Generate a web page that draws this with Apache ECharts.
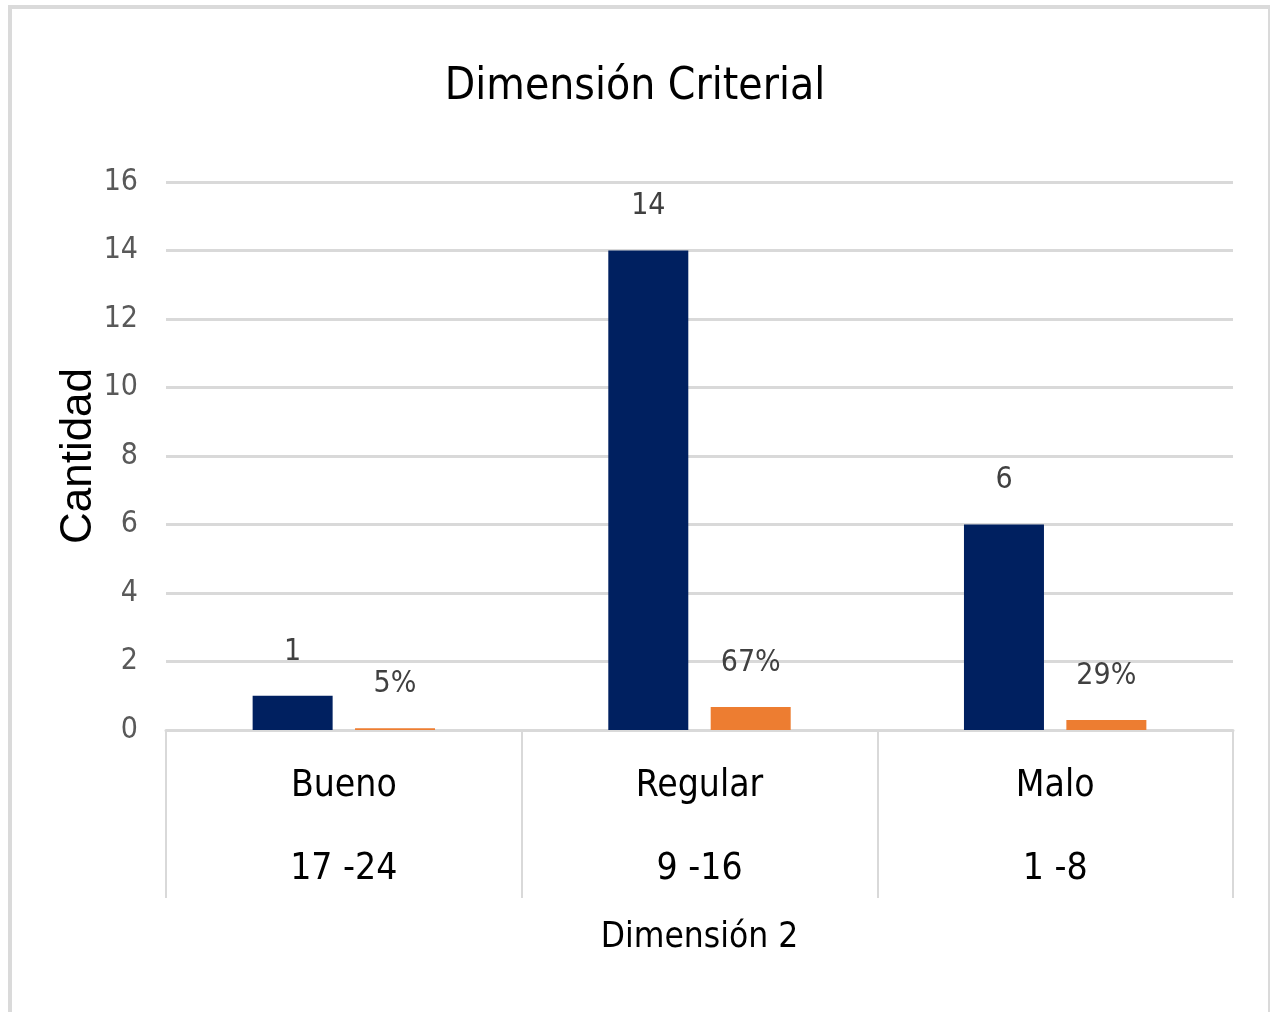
<!DOCTYPE html>
<html>
<head>
<meta charset="utf-8">
<script src="https://cdn.jsdelivr.net/npm/echarts@6/dist/echarts.min.js"></script>
<style>
html,body{margin:0;padding:0;background:#fff;}
#chart{position:absolute;left:0;top:0;width:1270px;height:1012px;}
#frame{position:absolute;left:8px;top:5px;width:1256px;height:1020px;border:4px solid #dadada;border-bottom:none;pointer-events:none;}
</style>
</head>
<body>
<div id="chart"></div>
<div id="frame"></div>
<script>
const title = 'Dimensión Criterial';
const categories = ['Bueno', 'Regular', 'Malo'];
const ranges = ['17 -24', '9 -16', '1 -8'];
const cantidad = [1, 14, 6];
const porcentaje = [0.05, 0.67, 0.29];
const porcentajeLabels = ['5%', '67%', '29%'];
const yTicks = [0, 2, 4, 6, 8, 10, 12, 14, 16];

const NARROW = "'Liberation Sans Narrow','DejaVu Sans Condensed','Arial Narrow',sans-serif";
const chart = echarts.init(document.getElementById('chart'));
chart.setOption({
  animation: false,
  backgroundColor: '#ffffff',
  title: {
    text: title, left: 'center', top: 61,
    textStyle: { fontFamily: NARROW, fontSize: 44, fontWeight: 'normal', color: '#000000' }
  },
  grid: { left: 166, right: 37, top: 182, bottom: 282 },
  xAxis: {
    type: 'category',
    data: categories.map((c, i) => c + '\n' + ranges[i]),
    name: 'Dimensión 2', nameLocation: 'middle', nameGap: 190,
    nameTextStyle: { fontFamily: NARROW, fontSize: 35, color: '#000000' },
    axisLine: { lineStyle: { color: '#d9d9d9', width: 3 } },
    axisTick: { show: true, length: 168, lineStyle: { color: '#d9d9d9', width: 2 } },
    axisLabel: {
      interval: 0, margin: 15, lineHeight: 83,
      fontFamily: NARROW, fontSize: 37, color: '#000000'
    }
  },
  yAxis: {
    type: 'value', min: yTicks[0], max: yTicks[yTicks.length - 1], interval: 2,
    name: 'Cantidad', nameLocation: 'middle', nameGap: 65, nameRotate: 90,
    nameMoveOverlap: false,
    nameTextStyle: { fontFamily: "'Liberation Sans',Arial,sans-serif", fontSize: 44, fontWeight: 500, color: '#000000' },
    axisLine: { show: false }, axisTick: { show: false },
    axisLabel: { margin: 28, fontFamily: NARROW, fontSize: 30, color: '#595959' },
    splitLine: { lineStyle: { color: '#d9d9d9', width: 3 } }
  },
  series: [
    {
      type: 'bar', data: cantidad, barWidth: 80, barGap: '28%',
      itemStyle: { color: '#002060' },
      label: { show: true, position: 'top', distance: 29, fontFamily: NARROW, fontSize: 30, color: '#404040' }
    },
    {
      type: 'bar', data: porcentaje, barWidth: 80,
      itemStyle: { color: '#ED7D31' },
      label: { show: true, position: 'top', distance: 29, fontFamily: NARROW, fontSize: 30, color: '#404040',
        formatter: p => porcentajeLabels[p.dataIndex] }
    }
  ]
});
</script>
</body>
</html>
